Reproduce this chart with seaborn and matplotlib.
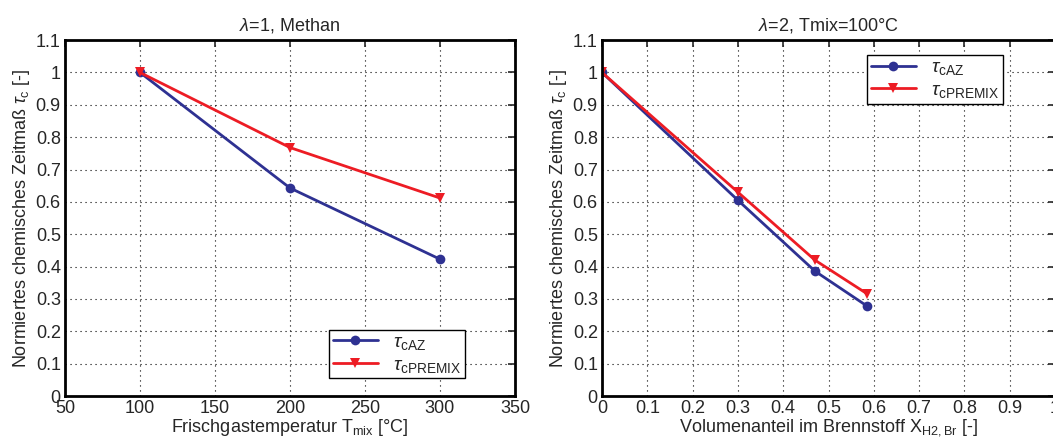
import numpy as np
import pandas as pd
import matplotlib
matplotlib.use("Agg")
import matplotlib.pyplot as plt
from matplotlib.ticker import FormatStrFormatter, MultipleLocator
import seaborn as sns

# data
t_mix = [100, 200, 300]
tau_az_t = [1.0, 0.643, 0.423]
tau_premix_t = [1.0, 0.768, 0.612]

x_h2 = [0.0, 0.30, 0.47, 0.585]
tau_az_h2 = [1.0, 0.605, 0.386, 0.278]
tau_premix_h2 = [1.0, 0.63, 0.42, 0.316]

labels = [r"$\tau_{\mathrm{cAZ}}$", r"$\tau_{\mathrm{cPREMIX}}$"]
blue = "#2e3192"
red = "#ed1c24"

sns.set_style("white")
plt.rcParams["font.family"] = ["Liberation Sans", "DejaVu Sans"]
plt.rcParams["mathtext.fontset"] = "custom"
plt.rcParams["mathtext.rm"] = "Liberation Sans"
plt.rcParams["mathtext.it"] = "Liberation Sans:italic"
plt.rcParams["font.size"] = 13

fig = plt.figure(figsize=(10.53, 4.41), dpi=100)
ax1 = fig.add_axes([0.0617, 0.102, 0.4273, 0.807])
ax2 = fig.add_axes([0.5717, 0.102, 0.4303, 0.807])


def draw(ax, x, az, premix):
    df = pd.DataFrame({"x": list(x) * 2, "y": list(az) + list(premix),
                       "s": [labels[0]] * len(x) + [labels[1]] * len(x)})
    sns.lineplot(data=df, x="x", y="y", hue="s", style="s",
                 palette=[blue, red], markers=["o", "v"], dashes=False,
                 markersize=7, linewidth=2, markeredgewidth=0, ax=ax)


def style(ax):
    ax.set_ylim(0, 1.1)
    ax.yaxis.set_major_locator(MultipleLocator(0.1))
    ax.yaxis.set_major_formatter(FormatStrFormatter("%g"))
    ax.grid(True, linestyle=(0, (1, 3.5)), color="black", linewidth=0.8)
    ax.tick_params(direction="in", top=True, right=True, length=5, width=1.2,
                   labelsize=13, pad=3)
    for s in ax.spines.values():
        s.set_linewidth(2)
        s.set_color("black")
    ax.set_ylabel(r"Normiertes chemisches Zeitmaß $\tau_{\mathrm{c}}$ [-]",
                  fontsize=13, labelpad=3)


draw(ax1, t_mix, tau_az_t, tau_premix_t)
ax1.set_xlim(50, 350)
ax1.xaxis.set_major_locator(MultipleLocator(50))
style(ax1)
ax1.set_xlabel(r"Frischgastemperatur T$_{\mathrm{mix}}$ [°C]", fontsize=13, labelpad=0)
ax1.set_title(r"$\lambda$=1, Methan", fontsize=13, pad=7)
leg1 = ax1.legend(loc="lower right", bbox_to_anchor=(0.911, 0.022), fancybox=False,
                  edgecolor="black", framealpha=1, fontsize=14, handlelength=2.3,
                  borderpad=0.2, labelspacing=0.2)
leg1.get_frame().set_linewidth(1)

draw(ax2, x_h2, tau_az_h2, tau_premix_h2)
ax2.set_xlim(0, 1)
ax2.xaxis.set_major_locator(MultipleLocator(0.1))
ax2.xaxis.set_major_formatter(FormatStrFormatter("%g"))
style(ax2)
ax2.set_xlabel(r"Volumenanteil im Brennstoff X$_{\mathrm{H2,Br}}$ [-]", fontsize=13, labelpad=0)
ax2.set_title(r"$\lambda$=2, Tmix=100°C", fontsize=13, pad=7)
leg2 = ax2.legend(loc="upper right", bbox_to_anchor=(0.907, 0.986), fancybox=False,
                  edgecolor="black", framealpha=1, fontsize=14, handlelength=2.3,
                  borderpad=0.2, labelspacing=0.2)
leg2.get_frame().set_linewidth(1)

fig.savefig("out.png", dpi=100)
